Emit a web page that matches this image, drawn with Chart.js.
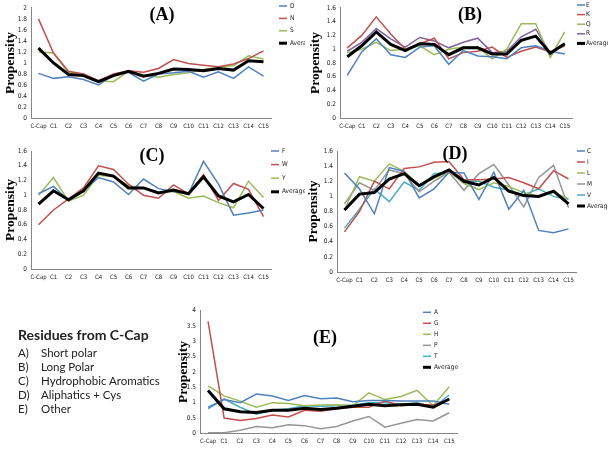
<!DOCTYPE html>
<html>
<head>
<meta charset="utf-8">
<script src="https://cdn.jsdelivr.net/npm/chart.js@4.4.1/dist/chart.umd.min.js"></script>
<style>
  body { margin: 0; background: #fff; width: 608px; height: 451px; overflow: hidden; position: relative; }
  .box { position: absolute; }
  .ttl { position: absolute; font: bold 18px "Liberation Serif", serif; color: #000; transform: translate(-50%, -50%); white-space: nowrap; }
  .note { position: absolute; left: 18px; font-family: Lato, "Open Sans", sans-serif; color: #222; white-space: nowrap; transform: translateY(-50%); }
  .note b { font-weight: 700; font-size: 14px; }
  .note span { display: inline-block; width: 23px; }
</style>
</head>
<body>
<div class="box" style="left:0;top:0"><canvas id="chA" width="305" height="140"></canvas></div>
<div class="box" style="left:300px;top:0"><canvas id="chB" width="308" height="140"></canvas></div>
<div class="box" style="left:0;top:140px"><canvas id="chC" width="305" height="150"></canvas></div>
<div class="box" style="left:300px;top:140px"><canvas id="chD" width="308" height="150"></canvas></div>
<div class="box" style="left:170px;top:300px"><canvas id="chE" width="300" height="151"></canvas></div>

<div class="ttl" style="left:162px;top:14px">(A)</div>
<div class="ttl" style="left:470px;top:14px">(B)</div>
<div class="ttl" style="left:152px;top:155px">(C)</div>
<div class="ttl" style="left:455px;top:153px">(D)</div>
<div class="ttl" style="left:325px;top:337px">(E)</div>

<div class="note" style="top:333px"><b>Residues from C-Cap</b></div>
<div class="note" style="top:352px;font-size:11.5px"><span>A)</span>Short polar</div>
<div class="note" style="top:366px;font-size:11.5px"><span>B)</span>Long Polar</div>
<div class="note" style="top:380px;font-size:11.5px"><span>C)</span>Hydrophobic Aromatics</div>
<div class="note" style="top:394px;font-size:11.5px"><span>D)</span>Aliphatics + Cys</div>
<div class="note" style="top:408px;font-size:11.5px"><span>E)</span>Other</div>

<script>
// positions after the C-Cap
const positions = ['C-Cap','C1','C2','C3','C4','C5','C6','C7','C8','C9','C10','C11','C12','C13','C14','C15'];

// (A) short polar
const aD   = [0.81,0.72,0.75,0.70,0.60,0.78,0.83,0.67,0.80,0.82,0.85,0.74,0.84,0.72,0.93,0.76];
const aN   = [1.80,1.18,0.85,0.80,0.68,0.80,0.86,0.83,0.90,1.06,0.99,0.96,0.93,0.98,1.08,1.22];
const aS   = [1.20,1.18,0.82,0.80,0.67,0.66,0.85,0.78,0.74,0.79,0.82,0.88,0.92,0.95,1.13,1.07];
const aAvg = [1.27,1.00,0.79,0.77,0.66,0.77,0.85,0.76,0.81,0.89,0.88,0.86,0.90,0.87,1.04,1.02];

// (B) long polar
const bE   = [0.62,0.96,1.15,0.92,0.88,1.03,1.05,0.78,0.98,0.90,0.89,0.86,1.02,1.05,0.97,0.93];
const bK   = [1.02,1.20,1.47,1.22,1.00,1.08,1.16,0.86,0.95,0.97,1.03,0.88,0.97,1.03,0.96,1.05];
const bQ   = [0.95,1.00,1.10,0.98,1.00,1.05,0.92,1.00,1.03,1.03,0.86,1.00,1.37,1.37,0.88,1.25];
const bR   = [0.97,1.10,1.30,1.15,1.03,1.17,1.12,1.02,1.10,1.16,0.95,0.97,1.18,1.29,0.94,1.09];
const bAvg = [0.89,1.05,1.25,1.07,0.98,1.08,1.07,0.92,1.02,1.02,0.93,0.93,1.13,1.19,0.94,1.08];

// (C) hydrophobic aromatics
const cF   = [1.02,1.12,0.93,1.07,1.24,1.18,1.01,1.22,1.09,1.05,1.02,1.46,1.15,0.73,0.76,0.80];
const cW   = [0.60,0.80,0.95,1.10,1.40,1.35,1.15,1.00,0.96,1.14,1.02,1.28,0.93,1.16,1.08,0.71];
const cY   = [1.00,1.24,0.92,1.00,1.27,1.25,1.13,1.10,1.04,1.05,0.96,0.99,0.90,0.83,1.19,0.97];
const cAvg = [0.88,1.06,0.94,1.06,1.30,1.26,1.10,1.10,1.03,1.07,1.02,1.25,0.99,0.91,1.01,0.82];

// (D) aliphatics + Cys
const dC   = [1.31,1.10,0.77,1.38,1.33,0.98,1.10,1.32,1.31,0.96,1.32,0.83,1.08,0.55,0.52,0.57];
const dI   = [0.53,0.80,1.20,1.10,1.37,1.39,1.45,1.46,1.22,1.22,1.23,1.25,1.18,1.10,1.34,1.23];
const dL   = [0.82,1.26,1.20,1.43,1.33,1.15,1.24,1.33,1.17,1.09,1.18,1.13,1.05,1.00,1.05,0.97];
const dM   = [0.90,1.18,1.08,1.35,1.30,1.06,1.20,1.32,1.08,1.30,1.42,1.15,0.86,1.25,1.41,0.85];
const dV   = [0.58,0.83,1.10,0.93,1.19,1.08,1.30,1.32,1.20,1.20,1.12,1.08,1.02,1.10,1.00,0.96];
const dAvg = [0.82,1.03,1.05,1.23,1.30,1.14,1.26,1.35,1.20,1.15,1.25,1.07,1.01,1.00,1.07,0.90];

// (E) other
const eA   = [0.85,1.10,1.00,1.28,1.22,1.07,1.23,1.13,1.15,1.03,1.07,1.07,1.05,1.05,1.05,0.95];
const eG   = [3.65,0.50,0.42,0.48,0.60,0.53,0.75,0.72,0.80,0.85,0.85,1.05,0.90,0.95,0.92,1.10];
const eH   = [1.55,1.22,1.05,0.85,1.00,0.97,0.90,0.92,0.93,0.90,1.32,1.10,1.20,1.40,0.90,1.52];
const eP   = [0.02,0.02,0.10,0.22,0.18,0.28,0.25,0.15,0.22,0.40,0.55,0.20,0.33,0.45,0.40,0.67];
const eT   = [0.80,1.12,0.85,0.62,0.75,0.80,0.90,0.88,0.90,0.92,1.00,1.00,0.95,1.00,0.85,1.25];
const eAvg = [1.40,0.80,0.70,0.68,0.75,0.75,0.82,0.78,0.82,0.88,0.95,0.90,0.93,0.95,0.85,1.12];

const BLUE = '#4F81BD', RED = '#C0504D', GREEN = '#9BBB59', PURPLE = '#8064A2', AQUA = '#4BACC6', GRAY = '#969696';
const smallFont = '"Liberation Sans Narrow","DejaVu Sans Condensed",Arial,sans-serif';

// legend drawn as a short line + label, stacked at a fixed spot
const sideLegend = {
  id: 'sideLegend',
  afterDraw(chart, args, opts) {
    const ctx = chart.ctx;
    ctx.save();
    ctx.font = '6.5px ' + smallFont;
    ctx.textBaseline = 'middle';
    chart.data.datasets.forEach((ds, i) => {
      const y = opts.y + i * opts.gap;
      ctx.strokeStyle = ds.borderColor;
      ctx.lineWidth = ds.label === 'Average' ? 3 : 1.5;
      ctx.beginPath(); ctx.moveTo(opts.x, y); ctx.lineTo(opts.x + 8, y); ctx.stroke();
      ctx.fillStyle = '#222';
      ctx.fillText(ds.label, opts.x + (opts.tx || 11), y);
    });
    ctx.restore();
  }
};

function series(label, data, color) {
  const avg = label === 'Average';
  return { label, data, borderColor: color, backgroundColor: color, borderWidth: avg ? 3 : 1.5,
           pointRadius: 0, tension: 0, order: avg ? 0 : 1 };
}

function panel(id, sets, p) {
  new Chart(document.getElementById(id).getContext('2d'), {
    type: 'line',
    data: { labels: positions, datasets: sets },
    options: {
      responsive: false, animation: false,
      layout: { padding: { left: 0, top: p.top, right: p.right, bottom: 0 } },
      plugins: { legend: { display: false }, tooltip: { enabled: false }, sideLegend: p.legend },
      scales: {
        x: {
          offset: true,
          grid: { display: true, drawOnChartArea: false, drawTicks: false },
          border: { color: '#868686', width: 1 },
          ticks: { autoSkip: false, maxRotation: 0, padding: 5, color: '#222', font: { family: smallFont, size: 6 } },
          afterFit: s => { s.height = p.xh; }
        },
        y: {
          min: 0, max: p.max,
          grid: { display: true, drawOnChartArea: false, drawTicks: false },
          border: { color: '#868686', width: 1 },
          ticks: { stepSize: p.step, autoSkip: false, padding: 4, color: '#222', font: { family: smallFont, size: 6.5 },
                   callback: v => String(+v.toFixed(2)) },
          title: { display: true, text: 'Propensity', color: '#000', padding: { top: p.tp, bottom: 0 },
                   font: { family: '"Liberation Serif", serif', weight: 'bold', size: 13.5 } },
          afterFit: s => { s.width = p.yw; }
        }
      }
    },
    plugins: [sideLegend]
  });
}

panel('chA', [series('D', aD, BLUE), series('N', aN, RED), series('S', aS, GREEN), series('Average', aAvg, '#000')],
  { top: 5, right: 34, xh: 22, yw: 31, max: 2, step: 0.2, tp: 2, legend: { x: 279, y: 6, gap: 12.4 } });

panel('chB', [series('E', bE, BLUE), series('K', bK, RED), series('Q', bQ, GREEN), series('R', bR, PURPLE), series('Average', bAvg, '#000')],
  { top: 5, right: 36, xh: 22, yw: 40, max: 1.6, step: 0.2, tp: 7, legend: { x: 277, y: 5, gap: 9.6, tx: 9 } });

panel('chC', [series('F', cF, BLUE), series('W', cW, RED), series('Y', cY, GREEN), series('Average', cAvg, '#000')],
  { top: 11, right: 34, xh: 21, yw: 31, max: 1.6, step: 0.2, tp: 2, legend: { x: 271, y: 11, gap: 13.6 } });

panel('chD', [series('C', dC, BLUE), series('I', dI, RED), series('L', dL, GREEN), series('M', dM, GRAY), series('V', dV, AQUA), series('Average', dAvg, '#000')],
  { top: 11, right: 32, xh: 18, yw: 37, max: 1.6, step: 0.2, tp: 5, legend: { x: 277, y: 11, gap: 11, tx: 10 } });

panel('chE', [series('A', eA, BLUE), series('G', eG, RED), series('H', eH, GREEN), series('P', eP, GRAY), series('T', eT, AQUA), series('Average', eAvg, '#000')],
  { top: 10.7, right: 12.7, xh: 17.7, yw: 30, max: 4, step: 0.5, tp: 5, legend: { x: 253, y: 12.3, gap: 11 } });
</script>
</body>
</html>
